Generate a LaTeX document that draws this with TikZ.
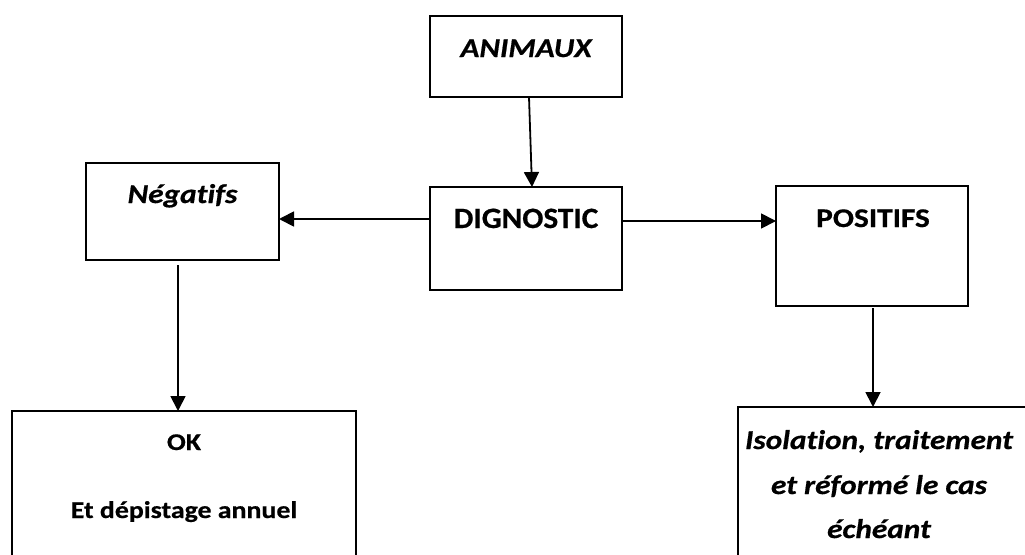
\documentclass[tikz,border=0pt]{standalone}
\usepackage{fontspec}
\setmainfont{Carlito}[Ligatures=NoCommon, FakeStretch=1.16, BoldFeatures={FakeBold=0.6}, BoldItalicFeatures={FakeBold=0.6}]
\newfontfamily\digfont{Carlito}[Ligatures=NoCommon, FakeStretch=1.06, BoldFeatures={FakeBold=0.6}]
\usetikzlibrary{arrows.meta,calc}
\tikzset{
  box/.style={draw, line width=2pt, inner sep=0pt, outer sep=0pt, anchor=north west},
  arr/.style={line width=1.8pt, -{Triangle[length=15pt,width=15pt]}},
  lbl/.style={anchor=base, inner sep=0pt},
  big/.style={font=\digfont\fontsize{29.5}{32}\selectfont\bfseries},
  mid/.style={font=\fontsize{27}{32}\selectfont\bfseries},
  sml/.style={font=\fontsize{24}{28}\selectfont\bfseries}
}
\begin{document}
\begin{tikzpicture}[x=1pt,y=-1pt]
\useasboundingbox (0,0) rectangle (1025,554);
\clip (0,0) rectangle (1025,554);
\fill[white] (0,0) rectangle (1025,554);
% boxes
\node[box, minimum width=192pt, minimum height=81pt] (anim) at (430,16) {};
\node[box, minimum width=192pt, minimum height=103pt] (dig) at (430,187) {};
\node[box, minimum width=193pt, minimum height=97pt] (neg) at (86,163) {};
\node[box, minimum width=192pt, minimum height=120pt] (pos) at (776,186) {};
\node[box, minimum width=344pt, minimum height=200pt] (ok) at (12,411) {};
\node[box, minimum width=300pt, minimum height=200pt] (iso) at (738,407) {};
% labels
\node[lbl, mid] (tanim) at (526,57) {\itshape ANIMAUX};
\node[lbl, big] (tdig) at (526,228) {DIGNOSTIC};
\node[lbl, mid] (tneg) at (182.5,203) {\itshape Négatifs};
\node[lbl, mid] (tpos) at (873,227) {POSITIFS};
\node[lbl, sml] (tok1) at (184,450) {OK};
\node[lbl, sml] (tok2) at (184,518) {Et dépistage annuel};
\node[lbl, mid] (tiso1) at (879,449) {\itshape Isolation, traitement};
\node[lbl, mid] (tiso2) at (879,494) {\itshape et réformé le cas};
\node[lbl, mid] (tiso3) at (879,538) {\itshape échéant};
% connectors
\draw[arr] ([xshift=3pt]anim.south) -- ([xshift=6pt]dig.north);
\coordinate (dl) at ([yshift=19.5pt]dig.west);
\draw[arr] (dl) -- (dl -| neg.east);
\coordinate (dr) at ([yshift=17.5pt]dig.east);
\draw[arr] (dr) -- (dr -| pos.west);
\coordinate (nd) at ([xshift=-4.5pt,yshift=-5pt]neg.south);
\draw[arr] (nd) -- (nd |- ok.north);
\coordinate (pd) at ([xshift=1pt,yshift=-2pt]pos.south);
\draw[arr] (pd) -- (pd |- iso.north);
\end{tikzpicture}
\end{document}
